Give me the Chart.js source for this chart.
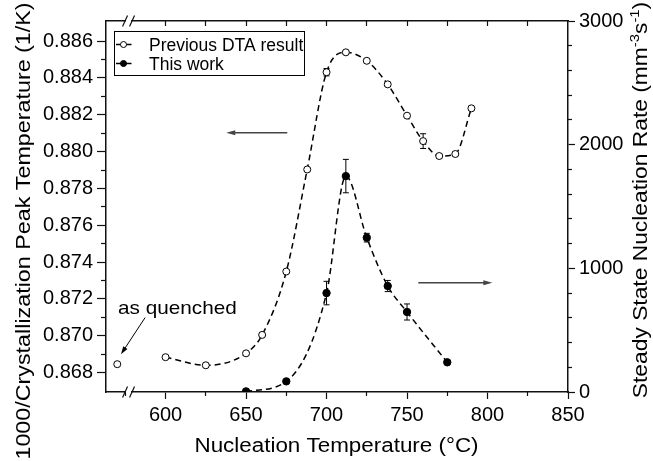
<!DOCTYPE html>
<html>
<head>
<meta charset="utf-8">
<script src="https://cdn.jsdelivr.net/npm/chart.js@4"></script>
<style>
  html, body { margin: 0; padding: 0; background: #fff; }
  #wrap { width: 653px; height: 461px; position: relative; }
</style>
</head>
<body>
<div id="wrap"><canvas id="nucChart"></canvas></div>
<script>
// previous DTA result (left axis, 1000/Tp)
const prevTemps = [600, 625, 650, 660, 675, 688, 700, 712, 725, 738, 750, 760, 770, 780, 790];
const prevPeak = [0.86884, 0.86840, 0.86905, 0.87005, 0.87349, 0.87903, 0.88431, 0.88539, 0.88493, 0.88365, 0.88195, 0.88057, 0.87976, 0.87987, 0.88235];
const prevErr = [0, 0, 0, 0.0001, 0, 0.0001, 0.0002, 0.0001, 0.0001, 0.0001, 0.0001, 0.0004, 0.0001, 0.0001, 0];
// as quenched sample
const quenchTemp = [570];
const quenchPeak = [0.86846];
// this work (right axis, nucleation rate)
const workTemps = [650, 675, 700, 712, 725, 738, 750, 775];
const workRate = [5, 86, 800, 1746, 1248, 857, 647, 240];
const workErr = [0, 0, 95, 135, 35, 45, 65, 0];

const xMajor = [600, 650, 700, 750, 800, 850];
const xMinor = [575, 625, 675, 725, 775, 825];
const xTopTicks = [600, 625, 650, 675, 700, 725, 750, 775, 800, 825];
const peakMajor = [0.868, 0.870, 0.872, 0.874, 0.876, 0.878, 0.880, 0.882, 0.884, 0.886];
const peakMinor = [0.869, 0.871, 0.873, 0.875, 0.877, 0.879, 0.881, 0.883, 0.885];
const rateMajor = [0, 1000, 2000, 3000];
const rateMinor = [200, 400, 600, 800, 1200, 1400, 1600, 1800, 2200, 2400, 2600, 2800];

const FONT = "'Liberation Sans', Arial, sans-serif";
const AXIS = '#111';

function setTicks(values) {
  return scale => { scale.ticks = values.map(v => ({ value: v })); };
}
function fixSize(prop, size) {
  return scale => { scale[prop] = size; };
}

const errorBars = {
  id: 'errorBars',
  beforeDatasetsDraw(chart) {
    const ctx = chart.ctx;
    const xs = chart.scales.x;
    ctx.save();
    ctx.strokeStyle = '#000';
    ctx.lineWidth = 1;
    const draw = (temps, vals, errs, ys) => {
      temps.forEach((t, i) => {
        if (!errs[i]) return;
        const px = xs.getPixelForValue(t);
        const top = ys.getPixelForValue(vals[i] + errs[i]);
        const bot = ys.getPixelForValue(vals[i] - errs[i]);
        ctx.beginPath();
        ctx.moveTo(px, top); ctx.lineTo(px, bot);
        ctx.moveTo(px - 3, top); ctx.lineTo(px + 3, top);
        ctx.moveTo(px - 3, bot); ctx.lineTo(px + 3, bot);
        ctx.stroke();
      });
    };
    draw(prevTemps, prevPeak, prevErr, chart.scales.y);
    draw(workTemps, workRate, workErr, chart.scales.y2);
    ctx.restore();
  }
};

function arrow(ctx, x1, y1, x2, y2, color, width, head) {
  const a = Math.atan2(y2 - y1, x2 - x1);
  ctx.save();
  ctx.strokeStyle = color;
  ctx.fillStyle = color;
  ctx.lineWidth = width;
  ctx.beginPath();
  ctx.moveTo(x1, y1);
  ctx.lineTo(x2 - Math.cos(a) * head * 0.8, y2 - Math.sin(a) * head * 0.8);
  ctx.stroke();
  ctx.beginPath();
  ctx.moveTo(x2, y2);
  ctx.lineTo(x2 - head * Math.cos(a) + 2.5 * Math.sin(a), y2 - head * Math.sin(a) - 2.5 * Math.cos(a));
  ctx.lineTo(x2 - head * Math.cos(a) - 2.5 * Math.sin(a), y2 - head * Math.sin(a) + 2.5 * Math.cos(a));
  ctx.closePath();
  ctx.fill();
  ctx.restore();
}

// text drawn a bit wider than normal, like the original export
function wideText(ctx, parts, x, y, angle, sx) {
  ctx.save();
  ctx.translate(x, y);
  ctx.rotate(angle);
  ctx.scale(sx, 1);
  ctx.fillStyle = '#000';
  ctx.textBaseline = 'alphabetic';
  ctx.textAlign = 'left';
  let total = 0;
  parts.forEach(p => { ctx.font = p.sup ? `13px ${FONT}` : `20px ${FONT}`; total += ctx.measureText(p.t).width; });
  let cx = -total / 2;
  parts.forEach(p => {
    ctx.font = p.sup ? `13px ${FONT}` : `20px ${FONT}`;
    ctx.fillText(p.t, cx, p.sup ? -8 : 0);
    cx += ctx.measureText(p.t).width;
  });
  ctx.restore();
}

const extras = {
  id: 'extras',
  afterDraw(chart) {
    const ctx = chart.ctx;
    const xs = chart.scales.x, ys = chart.scales.y, y2 = chart.scales.y2;
    const area = chart.chartArea;

    // axis breaks
    const bx = xs.getPixelForValue(577);
    [area.top, area.bottom].forEach(by => {
      ctx.save();
      ctx.fillStyle = '#fff';
      ctx.fillRect(bx - 2.5, by - 1.5, 5, 3);
      ctx.strokeStyle = AXIS;
      ctx.lineWidth = 1.2;
      ctx.beginPath();
      ctx.moveTo(bx - 6, by + 5.5); ctx.lineTo(bx - 1, by - 5.5);
      ctx.moveTo(bx + 1, by + 5.5); ctx.lineTo(bx + 6, by - 5.5);
      ctx.stroke();
      ctx.restore();
    });

    // arrows pointing to the axes
    arrow(ctx, xs.getPixelForValue(675.6), ys.getPixelForValue(0.88103),
      xs.getPixelForValue(637.7), ys.getPixelForValue(0.88103), '#444', 1.5, 9);
    arrow(ctx, xs.getPixelForValue(757), y2.getPixelForValue(884),
      xs.getPixelForValue(803), y2.getPixelForValue(884), '#444', 1.5, 9);
    arrow(ctx, xs.getPixelForValue(587.3), ys.getPixelForValue(0.87099),
      xs.getPixelForValue(572.3), ys.getPixelForValue(0.868995), '#000', 1, 8);

    ctx.save();
    ctx.font = `18.5px ${FONT}`;
    ctx.fillStyle = '#000';
    ctx.textAlign = 'left';
    ctx.translate(xs.getPixelForValue(570.5), ys.getPixelForValue(0.8712));
    ctx.scale(1.12, 1);
    ctx.fillText('as quenched', 0, 0);
    ctx.restore();

    // axis titles
    wideText(ctx, [{ t: 'Nucleation Temperature (°C)' }], 336.5, 452, 0, 1.12);
    wideText(ctx, [{ t: '1000/Crystallization Peak Temperature (1/K)' }], 29.5, 231, -Math.PI / 2, 1.165);
    wideText(ctx, [
      { t: 'Steady State Nucleation Rate (mm' }, { t: '-3', sup: true },
      { t: 's' }, { t: '-1', sup: true }, { t: ')' }
    ], 647, 200, -Math.PI / 2, 1.14);

    // legend box
    ctx.save();
    ctx.strokeStyle = '#000';
    ctx.lineWidth = 1;
    ctx.fillStyle = '#fff';
    ctx.fillRect(114.5, 31.5, 190, 44);
    ctx.strokeRect(114.5, 31.5, 190, 44);
    const rows = [
      { label: chart.data.datasets[0].label, fill: '#fff', y: 44.5, base: 51 },
      { label: chart.data.datasets[1].label, fill: '#000', y: 63.5, base: 70 }
    ];
    rows.forEach(r => {
      ctx.strokeStyle = '#000';
      ctx.lineWidth = 1.5;
      ctx.beginPath();
      ctx.moveTo(116, r.y); ctx.lineTo(131.5, r.y);
      ctx.stroke();
      ctx.beginPath();
      ctx.arc(123.5, r.y, 3, 0, Math.PI * 2);
      ctx.fillStyle = r.fill;
      ctx.fill();
      ctx.lineWidth = 1;
      ctx.stroke();
      ctx.fillStyle = '#000';
      ctx.font = `17.5px ${FONT}`;
      ctx.textAlign = 'left';
      ctx.fillText(r.label, 149, r.base);
    });
    ctx.restore();
  }
};

const tickFont = { family: FONT, size: 20 };
const ctx = document.getElementById('nucChart').getContext('2d');

new Chart(ctx, {
  type: 'line',
  data: {
    datasets: [
      {
        label: 'Previous DTA result',
        data: prevTemps.map((t, i) => ({ x: t, y: prevPeak[i] })),
        yAxisID: 'y',
        borderColor: '#000',
        borderWidth: 1.5,
        borderDash: [6, 4],
        cubicInterpolationMode: 'monotone',
        pointRadius: 3.5,
        pointBackgroundColor: '#fff',
        pointBorderColor: '#000',
        pointBorderWidth: 1
      },
      {
        label: 'This work',
        data: workTemps.map((t, i) => ({ x: t, y: workRate[i] })),
        yAxisID: 'y2',
        borderColor: '#000',
        borderWidth: 1.5,
        borderDash: [6, 4],
        cubicInterpolationMode: 'monotone',
        pointRadius: 3.7,
        pointBackgroundColor: '#000',
        pointBorderColor: '#000',
        pointBorderWidth: 1
      },
      {
        label: 'as quenched',
        data: quenchTemp.map((t, i) => ({ x: t, y: quenchPeak[i] })),
        yAxisID: 'y',
        showLine: false,
        pointRadius: 3.5,
        pointBackgroundColor: '#fff',
        pointBorderColor: '#000',
        pointBorderWidth: 1
      }
    ]
  },
  options: {
    responsive: true,
    maintainAspectRatio: false,
    animation: false,
    layout: { padding: 0 },
    plugins: { legend: { display: false }, tooltip: { enabled: false } },
    scales: {
      x: {
        type: 'linear', position: 'bottom', weight: 1, min: 563, max: 850,
        afterBuildTicks: setTicks(xMajor), afterFit: fixSize('height', 69),
        grid: { drawOnChartArea: false, tickLength: 7, tickColor: AXIS, tickWidth: 1.2 },
        border: { color: AXIS, width: 1.5 },
        ticks: { font: tickFont, color: '#000', padding: 4, maxRotation: 0 }
      },
      xMinor: {
        type: 'linear', position: 'bottom', weight: 0, min: 563, max: 850,
        afterBuildTicks: setTicks(xMinor), afterFit: fixSize('height', 0),
        grid: { drawOnChartArea: false, tickLength: 4, tickColor: AXIS, tickWidth: 1.2 },
        border: { display: false },
        ticks: { display: false }
      },
      xTop: {
        type: 'linear', position: 'top', min: 563, max: 850,
        afterBuildTicks: setTicks(xTopTicks), afterFit: fixSize('height', 21),
        grid: { drawOnChartArea: false, tickLength: -5, tickColor: AXIS, tickWidth: 1.2 },
        border: { color: AXIS, width: 1.5 },
        ticks: { display: false }
      },
      y: {
        type: 'linear', position: 'left', weight: 1, min: 0.86695, max: 0.88709,
        afterBuildTicks: setTicks(peakMajor), afterFit: fixSize('width', 106),
        grid: { drawOnChartArea: false, tickLength: 9, tickColor: AXIS, tickWidth: 1.2 },
        border: { color: AXIS, width: 1.5 },
        ticks: { font: tickFont, color: '#000', padding: 4, callback: v => v.toFixed(3) }
      },
      yMinor: {
        type: 'linear', position: 'left', weight: 0, min: 0.86695, max: 0.88709,
        afterBuildTicks: setTicks(peakMinor), afterFit: fixSize('width', 0),
        grid: { drawOnChartArea: false, tickLength: 5, tickColor: AXIS, tickWidth: 1.2 },
        border: { display: false },
        ticks: { display: false }
      },
      y2: {
        type: 'linear', position: 'right', weight: 1, min: 0, max: 3000,
        afterBuildTicks: setTicks(rateMajor), afterFit: fixSize('width', 85),
        grid: { drawOnChartArea: false, tickLength: 7, tickColor: AXIS, tickWidth: 1.2 },
        border: { color: AXIS, width: 1.5 },
        ticks: { font: tickFont, color: '#000', padding: 4, callback: v => String(v) }
      },
      y2Minor: {
        type: 'linear', position: 'right', weight: 0, min: 0, max: 3000,
        afterBuildTicks: setTicks(rateMinor), afterFit: fixSize('width', 0),
        grid: { drawOnChartArea: false, tickLength: 4, tickColor: AXIS, tickWidth: 1.2 },
        border: { display: false },
        ticks: { display: false }
      }
    }
  },
  plugins: [errorBars, extras]
});
</script>
</body>
</html>
